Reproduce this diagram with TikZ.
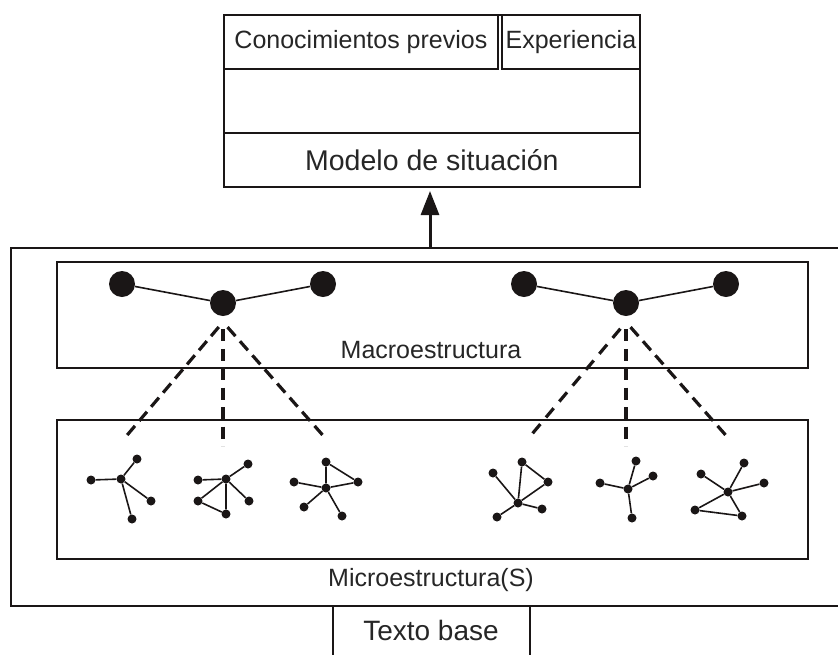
\documentclass[tikz,border=0pt]{standalone}
\usepackage{fontspec}
\setmainfont{Liberation Sans}
\usetikzlibrary{arrows.meta,decorations}
\definecolor{ink}{HTML}{1A1616}
\definecolor{txt}{HTML}{262626}
\begin{document}
\begin{tikzpicture}[x=1pt,y=-1pt,
  box/.style={draw=ink,line width=1.8pt,inner sep=0pt,anchor=north west,text=txt},
  lbl/.style={text=txt,inner sep=0pt,font=\fontsize{25}{25}\selectfont},
  bigdot/.style={circle,fill=ink,minimum size=26pt,inner sep=0pt},
  sdot/.style={circle,fill=ink,minimum size=9pt,inner sep=0pt},
  edge/.style={draw=ink,line width=1.6pt},
  dashlink/.style={draw=ink,line width=3.2pt,dash pattern=on 12pt off 6.5pt,dash expand off}
]
\useasboundingbox (0,0) rectangle (838,654);
% top block
\node[box,minimum width=416pt,minimum height=172pt] (topbox) at (223,14) {};
\node[box,minimum width=274pt,minimum height=54pt,font=\fontsize{25}{25}\selectfont] (conoc) at (223,14) {Conocimientos previos};
\node[box,minimum width=138pt,minimum height=54pt,font=\fontsize{25}{25}\selectfont] (exper) at (501,14) {Experiencia};
\node[box,minimum width=416pt,minimum height=54pt,font=\fontsize{28.5}{28.5}\selectfont] (modelo) at (223,132) {Modelo de situación};
% outer block
\node[box,line width=1.9pt,minimum width=828pt,minimum height=358pt] (outer) at (10,247) {};
\node[box,minimum width=751pt,minimum height=106pt] (macro) at (56,261) {};
\node[box,minimum width=751pt,minimum height=139pt] (micro) at (56,419) {};
\node[lbl] (macrolbl) at (431,350) {Macroestructura};
\node[lbl] (microlbl) at (431,580) {Microestructura(S)};
% texto base
\coordinate (tbl) at (333,605);
\coordinate (tbr) at (530,605);
\draw[draw=ink,line width=1.8pt] (tbl) -- (333,660);
\draw[draw=ink,line width=1.8pt] (tbr) -- (530,660);
\node[lbl,font=\fontsize{28}{28}\selectfont] (texto) at (431,630) {Texto base};
% arrow
\coordinate (arrS) at (430,247);
\coordinate (arrE) at (430,191);
\draw[draw=ink,line width=3pt,-{Triangle[width=18pt,length=24pt]}] (arrS) -- (arrE);
% macro dots
\node[bigdot] (L1) at (122,284) {};
\node[bigdot] (L2) at (223,303) {};
\node[bigdot] (L3) at (323,284) {};
\node[bigdot] (R1) at (524,284) {};
\node[bigdot] (R2) at (626,303) {};
\node[bigdot] (R3) at (726,284) {};
\draw[edge] (L1) -- (L2) -- (L3);
\draw[edge] (R1) -- (R2) -- (R3);
% dashed links
\coordinate (La) at (223,322);
\coordinate (Ra) at (626,322);
\coordinate (g1t) at (123,440);
\coordinate (g2t) at (223,446);
\coordinate (g3t) at (327,440);
\coordinate (g4t) at (527,440);
\coordinate (g5t) at (626,446);
\coordinate (g6t) at (730,440);
\draw[dashlink] (La) -- (g1t);
\draw[dashlink] (La) -- (g2t);
\draw[dashlink] (La) -- (g3t);
\draw[dashlink] (Ra) -- (g4t);
\draw[dashlink] (Ra) -- (g5t);
\draw[dashlink] (Ra) -- (g6t);
% graph 1
\node[sdot] (a0) at (121,479) {};
\node[sdot] (a1) at (91,480) {};
\node[sdot] (a2) at (137,459) {};
\node[sdot] (a3) at (151,501) {};
\node[sdot] (a4) at (132,519) {};
\draw[edge] (a0)--(a1) (a0)--(a2) (a0)--(a3) (a0)--(a4);
% graph 2
\node[sdot] (b0) at (226,479) {};
\node[sdot] (b1) at (198,480) {};
\node[sdot] (b2) at (248,464) {};
\node[sdot] (b3) at (249,501) {};
\node[sdot] (b4) at (198,501) {};
\node[sdot] (b5) at (226,514) {};
\draw[edge] (b0)--(b1) (b0)--(b2) (b0)--(b3) (b0)--(b4) (b0)--(b5) (b4)--(b5);
% graph 3
\node[sdot] (c0) at (326,488) {};
\node[sdot] (c1) at (326,462) {};
\node[sdot] (c2) at (294,482) {};
\node[sdot] (c3) at (358,482) {};
\node[sdot] (c4) at (304,507) {};
\node[sdot] (c5) at (342,516) {};
\draw[edge] (c0)--(c1) (c0)--(c2) (c0)--(c3) (c0)--(c4) (c0)--(c5) (c1)--(c3);
% graph 4
\node[sdot] (d0) at (518,503) {};
\node[sdot] (d1) at (493,473) {};
\node[sdot] (d2) at (522,462) {};
\node[sdot] (d3) at (548,482) {};
\node[sdot] (d4) at (542,509) {};
\node[sdot] (d5) at (497,517) {};
\draw[edge] (d0)--(d1) (d0)--(d2) (d0)--(d3) (d0)--(d4) (d0)--(d5) (d2)--(d3);
% graph 5
\node[sdot] (e0) at (628,489) {};
\node[sdot] (e1) at (600,483) {};
\node[sdot] (e2) at (636,461) {};
\node[sdot] (e3) at (653,476) {};
\node[sdot] (e4) at (632,518) {};
\draw[edge] (e0)--(e1) (e0)--(e2) (e0)--(e3) (e0)--(e4);
% graph 6
\node[sdot] (f0) at (728,492) {};
\node[sdot] (f1) at (701,474) {};
\node[sdot] (f2) at (744,463) {};
\node[sdot] (f3) at (764,483) {};
\node[sdot] (f4) at (695,510) {};
\node[sdot] (f5) at (742,516) {};
\draw[edge] (f0)--(f1) (f0)--(f2) (f0)--(f3) (f0)--(f4) (f0)--(f5) (f4)--(f5);
\end{tikzpicture}
\end{document}
